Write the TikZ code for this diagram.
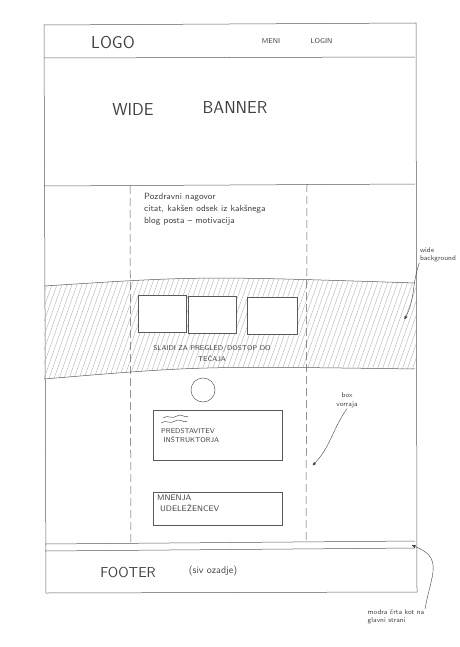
\documentclass[tikz,border=0pt]{standalone}
\usepackage{tikz}
\usetikzlibrary{arrows,positioning}

\tikzset{
  pencil/.style={draw=black!65,line width=0.5pt},
  hand/.style={text=black!75,font=\sffamily,inner sep=1pt},
  note/.style={text=black!75,font=\sffamily\scriptsize,inner sep=0.5pt,align=left},
  slide/.style={pencil,fill=white,minimum width=48pt,minimum height=37pt},
  infobox/.style={pencil,fill=white,minimum width=129pt,anchor=north west}
}

\begin{document}
\begin{tikzpicture}[x=1pt,y=-1pt,>=stealth',shorten >=1pt]
    \useasboundingbox (0,0) rectangle (459,647);
    % page frame
    \draw[pencil] (44,25) -- (416,23) -- (417,592) -- (46,593) -- cycle;
    \draw[pencil] (44,58) -- (416,57);
    \draw[pencil] (44,186) -- (416,184);

    % hatched wide background
    \begin{scope}
      \clip (44,286) .. controls (200,276) .. (416,283) -- (416,369) .. controls (200,366) .. (44,379) -- cycle;
      \foreach \x in {0,5,...,480}
        \draw[black!30,line width=0.4pt] (\x,390) -- (\x+40,276);
    \end{scope}
    \draw[pencil] (44,286) .. controls (200,276) .. (416,283);
    \draw[pencil] (44,379) .. controls (200,366) .. (416,369);

    % columns
    \draw[pencil,dashed,dash pattern=on 8pt off 4pt] (130,186) -- (131,543);
    \draw[pencil,dashed,dash pattern=on 8pt off 4pt] (307,184) -- (306,543);

    % footer
    \draw[pencil] (45,544) -- (416,541);
    \draw[pencil] (45,551) -- (416,548);

    \node[hand,font=\sffamily\LARGE] (logo) at (113,43) {LOGO};
    \node[hand,font=\sffamily\scriptsize] (meni) at (271,41) {MENI};
    \node[hand,font=\sffamily\scriptsize] (login) [right=28pt of meni] {LOGIN};
    \node[hand,font=\sffamily\LARGE] (wide) at (133,110) {WIDE};
    \node[hand,font=\sffamily\LARGE] (banner) at (235,108) {BANNER};

    \node[hand,font=\sffamily\small,align=left,anchor=north west] (quote) at (143,192)
      {Pozdravni nagovor\\[1pt] citat, kak\v{s}en odsek iz kak\v{s}nega\\[1pt] blog posta -- motivacija};

    \node[slide] (s1) at (162,314) {};
    \node[slide] (s2) at (212,315) {};
    \node[slide,minimum width=50pt] (s3) at (272,316) {};
    \node[hand,font=\sffamily\scriptsize] (slaidi) at (212,349) {SLAIDI ZA PREGLED/DOSTOP DO};
    \node[hand,font=\sffamily\scriptsize] (tecaja) [below=1pt of slaidi] {TE\v{C}AJA};

    \draw[pencil] (203,390) circle (12pt);

    \node[infobox,minimum height=50pt] (instr) at (153,410) {};
    \draw[pencil] (163,418) .. controls (168,414) and (172,420) .. (177,416) .. controls (181,413) and (184,418) .. (189,416);
    \draw[pencil] (161,423) .. controls (166,419) and (170,425) .. (175,421) .. controls (179,418) and (183,423) .. (188,421);
    \node[hand,font=\sffamily\scriptsize,align=left,anchor=north west] (instrtext) at (160,427)
      {PREDSTAVITEV\\[1pt] \ IN\v{S}TRUKTORJA};
    \node[infobox,minimum height=33pt] (mnenja) at (153,492) {};
    \node[hand,font=\sffamily\footnotesize,align=left,anchor=north west] (mnenjatext) at (156,494)
      {MNENJA\\[1pt] \ UDELE\v{Z}ENCEV};

    \node[hand,font=\sffamily\Large] (footer) at (128,572) {FOOTER};
    \node[hand,font=\sffamily\normalsize] (siv) at (213,571) {(siv ozadje)};

    % notes at the side
    \node[note] (bg) at (438,255) {wide\\background};
    \node[note] (box) at (347,395) {box};
    \node[note] (vorraja) [below=3pt of box] {vorraja};
    \node[note] (modra) at (396,617) {modra \v{c}rta kot na\\glavni strani};
    \coordinate (bgtip) at (404,320);
    \coordinate (boxtip) at (312,466);
    \coordinate (bluetip) at (411,545);

    \path[->,black!75]
    (bg.south west) edge [out=250,in=60] (bgtip)
    (vorraja.south) edge [out=235,in=45] (boxtip)
    (modra.north east) edge [out=80,in=-20,looseness=1.4] (bluetip)
    ;
\end{tikzpicture}
\end{document}
